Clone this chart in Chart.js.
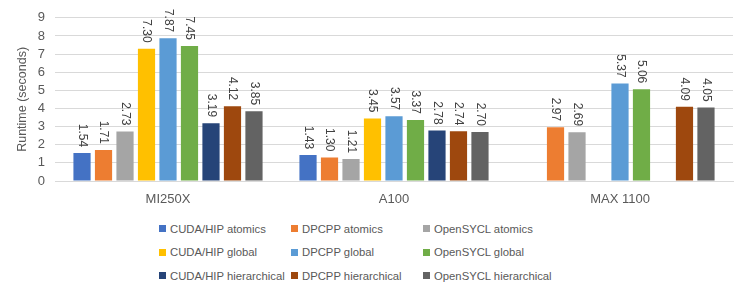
<!DOCTYPE html>
<html>
<head>
<meta charset="utf-8">
<script src="https://cdn.jsdelivr.net/npm/chart.js@4/dist/chart.umd.min.js"></script>
<style>
    body { margin: 0; background: #fff; font-family: 'Liberation Sans', Arial, sans-serif; }
    #wrap { position: relative; width: 747px; height: 290px; }
    #chartBox { position: absolute; left: 0; top: 0; width: 747px; height: 210px; }
    #legend {
        position: absolute; left: 159px; top: 217px;
        display: grid; grid-template-columns: 132px 132px 132px; grid-auto-rows: 23.5px;
        font-size: 11.3px; color: #595959;
    }
    .item { display: flex; align-items: center; white-space: nowrap; }
    .sw { width: 7px; height: 7px; margin-right: 4px; flex: none; }
</style>
</head>
<body>
<div id="wrap">
    <div id="chartBox"><canvas id="chart"></canvas></div>
    <div id="legend"></div>
</div>
<script>
// Categories and series
const categories = ['MI250X', 'A100', 'MAX 1100'];

const seriesNames = [
    'CUDA/HIP atomics', 'DPCPP atomics', 'OpenSYCL atomics',
    'CUDA/HIP global', 'DPCPP global', 'OpenSYCL global',
    'CUDA/HIP hierarchical', 'DPCPP hierarchical', 'OpenSYCL hierarchical'
];

const cudaAtomics = [1.54, 1.43, null];
const dpcppAtomics = [1.71, 1.30, 2.97];
const syclAtomics = [2.73, 1.21, 2.69];
const cudaGlobal = [7.30, 3.45, null];
const dpcppGlobal = [7.87, 3.57, 5.37];
const syclGlobal = [7.45, 3.37, 5.06];
const cudaHier = [3.19, 2.78, null];
const dpcppHier = [4.12, 2.74, 4.09];
const syclHier = [3.85, 2.70, 4.05];

const yTicks = [0, 1, 2, 3, 4, 5, 6, 7, 8, 9];

const seriesColors = [
    '#4472C4', '#ED7D31', '#A5A5A5',
    '#FFC000', '#5B9BD5', '#70AD47',
    '#264478', '#9E480E', '#636363'
];

const seriesValues = [
    cudaAtomics, dpcppAtomics, syclAtomics,
    cudaGlobal, dpcppGlobal, syclGlobal,
    cudaHier, dpcppHier, syclHier
];

// Rotated value labels above each bar
const barLabels = {
    id: 'barLabels',
    afterDatasetsDraw(chart) {
        const ctx = chart.ctx;
        ctx.save();
        ctx.font = '12px "Liberation Sans", Arial, sans-serif';
        ctx.fillStyle = '#404040';
        ctx.textAlign = 'right';
        ctx.textBaseline = 'middle';
        chart.data.datasets.forEach((ds, i) => {
            chart.getDatasetMeta(i).data.forEach((bar, j) => {
                const v = ds.data[j];
                if (v === null || v === undefined) return;
                ctx.save();
                ctx.translate(bar.x, bar.y - 6);
                ctx.rotate(Math.PI / 2);
                ctx.fillText(v.toFixed(2), 0, 0);
                ctx.restore();
            });
        });
        ctx.restore();
    }
};

new Chart(document.getElementById('chart'), {
    type: 'bar',
    data: {
        labels: categories,
        datasets: seriesNames.map((name, i) => ({
            label: name,
            data: seriesValues[i],
            backgroundColor: seriesColors[i],
            categoryPercentage: 0.856,
            barPercentage: 0.8
        }))
    },
    options: {
        responsive: true,
        maintainAspectRatio: false,
        animation: false,
        layout: { padding: { top: 11, right: 14, left: 15, bottom: 0 } },
        plugins: {
            legend: { display: false },
            tooltip: { enabled: false }
        },
        scales: {
            x: {
                grid: { display: false },
                border: { color: '#D9D9D9' },
                ticks: {
                    color: '#595959',
                    font: { family: 'Liberation Sans', size: 13 },
                    padding: 3
                },
                afterFit: (s) => { s.height = 29; }
            },
            y: {
                min: yTicks[0],
                max: yTicks[yTicks.length - 1],
                grid: { color: '#D9D9D9', drawTicks: false },
                border: { display: false },
                ticks: {
                    stepSize: 1,
                    autoSkip: false,
                    color: '#595959',
                    font: { family: 'Liberation Sans', size: 13 },
                    padding: 10
                },
                title: {
                    display: true,
                    text: 'Runtime (seconds)',
                    color: '#595959',
                    font: { family: 'Liberation Sans', size: 12.5 },
                    padding: 0
                },
                afterFit: (s) => { s.width = 40; }
            }
        }
    },
    plugins: [barLabels]
});

// Legend in a 3x3 grid
const legend = document.getElementById('legend');
seriesNames.forEach((name, i) => {
    const item = document.createElement('div');
    item.className = 'item';
    item.innerHTML = '<span class="sw" style="background:' + seriesColors[i] + '"></span>' + name;
    legend.appendChild(item);
});
</script>
</body>
</html>
